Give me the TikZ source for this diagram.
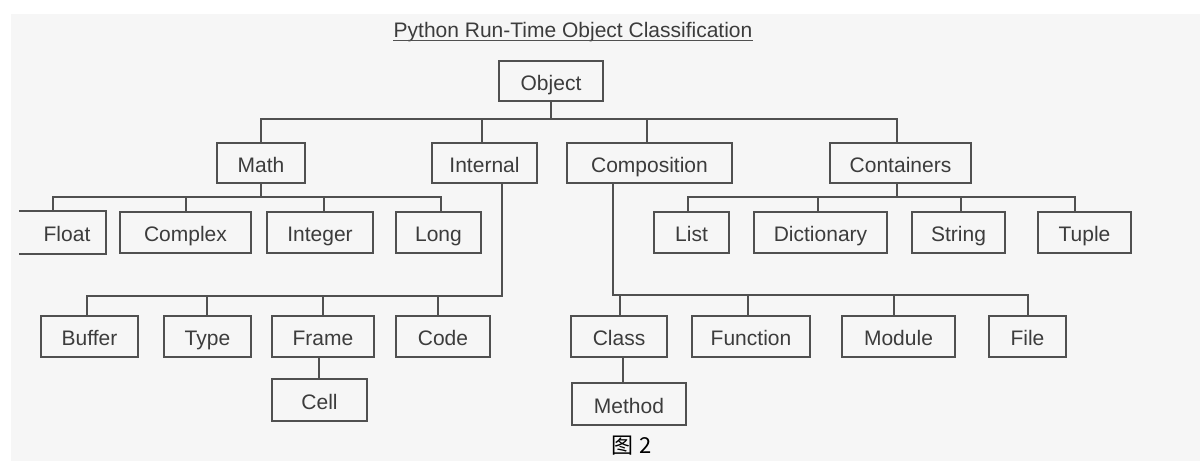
\documentclass[tikz,border=0pt]{standalone}
\usepackage{fontspec}
\setmainfont{Liberation Sans}
\newfontfamily\cjkfont{Noto Sans CJK SC}
\definecolor{bggray}{HTML}{F6F6F6}
\definecolor{edgegray}{HTML}{505050}
\definecolor{inkgray}{HTML}{3C3C3C}

\begin{document}
\begin{tikzpicture}[x=1pt,y=-1pt,
  box/.style={draw=edgegray, line width=1.9pt, text=inkgray,
    font=\fontsize{21}{25}\selectfont, inner sep=0pt, anchor=center,
    text height=18pt, text depth=0pt},
  openbox/.style={box, draw=none},
  link/.style={draw=edgegray, line width=1.9pt, line cap=rect}]

% page and grey panel
\useasboundingbox (0,0) rectangle (1200,461);
\fill[white] (0,0) rectangle (1200,461);
\fill[bggray] (11,14) rectangle (1200,461);

% heading
\node[text=inkgray, font=\fontsize{21}{25}\selectfont, inner sep=0pt, anchor=base]
  (title) at (573,37) {Python Run-Time Object Classification};
\draw[edgegray, line width=1pt] ([yshift=-3pt]title.base west) -- ([yshift=-3pt]title.base east);

% root
\node[box, minimum width=104, minimum height=40] (obj) at (551,81) {Object};

% second level
\node[box, minimum width=88,  minimum height=40] (math) at (261,163)   {Math};
\node[box, minimum width=105, minimum height=40] (int)  at (484.5,163) {Internal};
\node[box, minimum width=165, minimum height=40] (comp) at (649.5,163) {Composition};
\node[box, minimum width=141, minimum height=40] (cont) at (900.5,163) {Containers};

% numbers
\node[openbox, minimum width=85,  minimum height=41] (float) at (62.5,232.5) {\hspace{9pt}Float};
\draw[edgegray, line width=1.9pt] (float.north west) -- (float.north east)
  -- (float.south east) -- (float.south west);
\node[box, minimum width=131, minimum height=41] (complex) at (185.5,232.5) {Complex};
\node[box, minimum width=106, minimum height=41] (integer) at (320,232.5)   {Integer};
\node[box, minimum width=85,  minimum height=41] (long)    at (438.5,232.5) {Long};

% containers
\node[box, minimum width=75,  minimum height=41] (list)   at (691.5,232.5)  {List};
\node[box, minimum width=133, minimum height=41] (dict)   at (820.5,232.5)  {Dictionary};
\node[box, minimum width=93,  minimum height=41] (string) at (958.5,232.5)  {String};
\node[box, minimum width=93,  minimum height=41] (tuple)  at (1084.5,232.5) {Tuple};

% internal types
\node[box, minimum width=97,  minimum height=41] (buffer) at (89.5,336.5)  {Buffer};
\node[box, minimum width=87,  minimum height=41] (type)   at (207.5,336.5) {Type};
\node[box, minimum width=102, minimum height=41] (frame)  at (323,336.5)   {Frame};
\node[box, minimum width=94,  minimum height=41] (code)   at (443,336.5)   {Code};
\node[box, minimum width=95,  minimum height=42] (cell)   at (319.5,400)   {Cell};

% composition types
\node[box, minimum width=96,  minimum height=41] (class)  at (619,336.5)    {Class};
\node[box, minimum width=118, minimum height=41] (func)   at (751,336.5)    {Function};
\node[box, minimum width=113, minimum height=41] (module) at (898.5,336.5)  {Module};
\node[box, minimum width=77,  minimum height=41] (file)   at (1027.5,336.5) {File};
\node[box, minimum width=114, minimum height=42] (method) at (629,404)      {Method};

% caption
\node[text=black, font=\cjkfont\fontsize{22}{26}\selectfont, inner sep=0pt]
  (caption) at (632,446) {图\hspace{6pt}2};

% bus heights
\coordinate (topbus)  at (0,119);
\coordinate (lowbus)  at (0,197);
\coordinate (intbus)  at (0,296);
\coordinate (compbus) at (0,295);

% object -> second level
\draw[link] (obj.south) -- (obj.south |- topbus);
\draw[link] (math.north |- topbus) -- ([xshift=-3.5pt]cont.north |- topbus);
\draw[link] (math.north) -- (math.north |- topbus);
\draw[link] ([xshift=-2.5pt]int.north) -- ([xshift=-2.5pt]int.north |- topbus);
\draw[link] ([xshift=-2.5pt]comp.north) -- ([xshift=-2.5pt]comp.north |- topbus);
\draw[link] ([xshift=-3.5pt]cont.north) -- ([xshift=-3.5pt]cont.north |- topbus);

% math -> numbers
\draw[link] (math.south) -- (math.south |- lowbus);
\draw[link] ([xshift=-9.5pt]float.north |- lowbus) -- ([xshift=2.5pt]long.north |- lowbus);
\draw[link] ([xshift=-9.5pt]float.north) -- ([xshift=-9.5pt]float.north |- lowbus);
\draw[link] ([xshift=0.5pt]complex.north) -- ([xshift=0.5pt]complex.north |- lowbus);
\draw[link] ([xshift=4pt]integer.north) -- ([xshift=4pt]integer.north |- lowbus);
\draw[link] ([xshift=2.5pt]long.north) -- ([xshift=2.5pt]long.north |- lowbus);

% containers -> sequences and mappings
\draw[link] ([xshift=-3.5pt]cont.south) -- ([xshift=-3.5pt]cont.south |- lowbus);
\draw[link] ([xshift=-3.5pt]list.north |- lowbus) -- ([xshift=-9.5pt]tuple.north |- lowbus);
\draw[link] ([xshift=-3.5pt]list.north) -- ([xshift=-3.5pt]list.north |- lowbus);
\draw[link] ([xshift=-2.5pt]dict.north) -- ([xshift=-2.5pt]dict.north |- lowbus);
\draw[link] ([xshift=2.5pt]string.north) -- ([xshift=2.5pt]string.north |- lowbus);
\draw[link] ([xshift=-9.5pt]tuple.north) -- ([xshift=-9.5pt]tuple.north |- lowbus);

% internal -> interpreter types
\draw[link] ([xshift=17.5pt]int.south) |- ([xshift=-2.5pt]buffer.north |- intbus);
\draw[link] ([xshift=-2.5pt]buffer.north) -- ([xshift=-2.5pt]buffer.north |- intbus);
\draw[link] ([xshift=-0.5pt]type.north) -- ([xshift=-0.5pt]type.north |- intbus);
\draw[link] (frame.north) -- (frame.north |- intbus);
\draw[link] ([xshift=-5pt]code.north) -- ([xshift=-5pt]code.north |- intbus);
\draw[link] ([xshift=-0.5pt]cell.north) -- ([xshift=-0.5pt]cell.north |- frame.south);

% composition -> program units
\draw[link] ([xshift=-36.5pt]comp.south) |- ([xshift=0.5pt]file.north |- compbus);
\draw[link] ([xshift=1pt]class.north) -- ([xshift=1pt]class.north |- compbus);
\draw[link] ([xshift=-3pt]func.north) -- ([xshift=-3pt]func.north |- compbus);
\draw[link] ([xshift=-4.5pt]module.north) -- ([xshift=-4.5pt]module.north |- compbus);
\draw[link] ([xshift=0.5pt]file.north) -- ([xshift=0.5pt]file.north |- compbus);
\draw[link] ([xshift=-6pt]method.north) -- ([xshift=-6pt]method.north |- class.south);
\end{tikzpicture}
\end{document}
